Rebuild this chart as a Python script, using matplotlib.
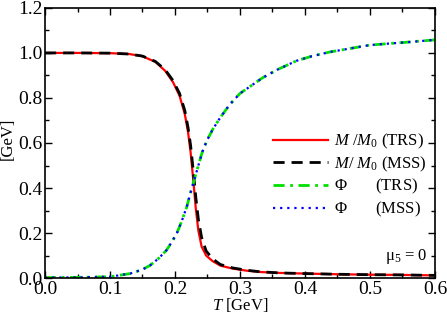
import matplotlib
matplotlib.use("Agg")
import matplotlib.pyplot as plt
from matplotlib.ticker import MultipleLocator

plt.rcParams['font.family'] = ['Liberation Serif', 'DejaVu Serif']
plt.rcParams['mathtext.fontset'] = 'custom'
plt.rcParams['mathtext.rm'] = 'Liberation Serif'
plt.rcParams['mathtext.it'] = 'Liberation Serif:italic'

# Data
T_M = [0.0, 0.05, 0.1, 0.13, 0.15, 0.17, 0.185, 0.197, 0.207, 0.215, 0.22, 0.224,
       0.228, 0.232, 0.236, 0.241, 0.248, 0.258, 0.27, 0.289, 0.31, 0.331, 0.36,
       0.4, 0.45, 0.5, 0.55, 0.6]
M_TRS = [1.0, 1.0, 0.999, 0.995, 0.985, 0.96, 0.92, 0.87, 0.81, 0.73, 0.65, 0.56,
         0.44, 0.31, 0.21, 0.14, 0.10, 0.075, 0.055, 0.042, 0.033, 0.027, 0.023,
         0.02, 0.017, 0.015, 0.014, 0.012]
M_MSS = [1.0, 1.0, 0.999, 0.995, 0.986, 0.962, 0.925, 0.877, 0.82, 0.745, 0.67, 0.59,
         0.48, 0.36, 0.26, 0.18, 0.12, 0.085, 0.06, 0.045, 0.035, 0.028, 0.023,
         0.02, 0.017, 0.015, 0.014, 0.012]

T_P = [0.0, 0.05, 0.1, 0.131, 0.15, 0.162, 0.175, 0.187, 0.195, 0.203, 0.21, 0.218,
       0.223, 0.228, 0.235, 0.242, 0.249, 0.258, 0.269, 0.284, 0.3, 0.315, 0.335,
       0.357, 0.387, 0.41, 0.438, 0.47, 0.5, 0.55, 0.6]
P_TRS = [0.002, 0.003, 0.006, 0.02, 0.038, 0.057, 0.088, 0.124, 0.16, 0.2, 0.25, 0.315,
         0.37, 0.42, 0.49, 0.56, 0.61, 0.66, 0.71, 0.77, 0.82, 0.85, 0.89, 0.925,
         0.965, 0.985, 1.004, 1.02, 1.035, 1.046, 1.058]
P_MSS = P_TRS

fig = plt.figure(figsize=(4.47, 3.16), dpi=100)
ax = fig.add_axes([0.1007, 0.12, 0.8723, 0.855])

ax.plot(T_M, M_TRS, color='red', lw=1.6, label=r'$M$ /$M_0$ (TRS)')
ax.plot(T_M, M_MSS, color='black', lw=2.0, ls=(0, (4, 2.5)), label=r'$M$/ $M_0$ (MSS)')
ax.plot(T_P, P_TRS, color='#00e000', lw=2.0, ls=(0, (4, 2, 1, 2)), label=r'$\Phi$       (TRS)')
ax.plot(T_P, P_MSS, color='blue', lw=1.6, ls=(0, (1, 2.2)), label=r'$\Phi$       (MSS)')

ax.set_xlim(0, 0.6)
ax.set_ylim(0, 1.2)
ax.xaxis.set_major_locator(MultipleLocator(0.1))
ax.xaxis.set_minor_locator(MultipleLocator(0.05))
ax.yaxis.set_major_locator(MultipleLocator(0.2))
ax.yaxis.set_minor_locator(MultipleLocator(0.1))
ax.xaxis.set_major_formatter(matplotlib.ticker.FormatStrFormatter('%.1f'))
ax.yaxis.set_major_formatter(matplotlib.ticker.FormatStrFormatter('%.1f'))
ax.tick_params(which='both', direction='in', top=True, right=True, labelsize=14)
ax.tick_params(which='major', length=5, width=1)
ax.tick_params(which='minor', length=3, width=1)
ax.tick_params(axis='y', pad=2)
ax.tick_params(axis='x', pad=2)
for s in ax.spines.values():
    s.set_linewidth(1.2)

ax.set_xlabel(r'$T$ [GeV]', fontsize=12, labelpad=-1)
fig.text(0.017, 1 - 139 / 316, '[GeV]', rotation=90, ha='center', va='center', fontsize=12)

leg = ax.legend(loc='upper right', bbox_to_anchor=(0.995, 0.565), frameon=False,
                fontsize=12, handlelength=3.3, handletextpad=0.35, labelspacing=0.2,
                borderaxespad=0)
ax.text(0.98, 0.081, r'$\mathrm{\mu}_5$ = 0', transform=ax.transAxes, ha='right',
        va='center', fontsize=12)

fig.savefig('out.png', dpi=100)
